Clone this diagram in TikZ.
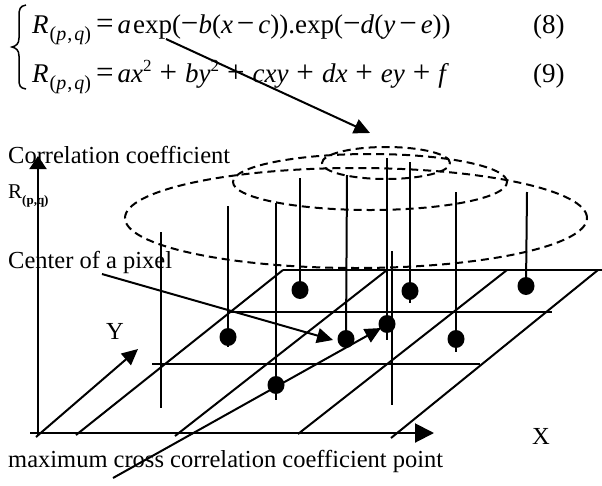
\documentclass[tikz,border=0pt]{standalone}
\usepackage{graphicx}
\usepackage{fontspec}
\setmainfont{Liberation Serif}
\usetikzlibrary{arrows.meta,shapes.geometric}
\newcommand\myLbl{\fontsize{24.5}{28}\selectfont}
\newcommand\myEq{\fontsize{27}{30}\selectfont}
\newcommand\eqsub{\kern1pt\raisebox{-7pt}{\fontsize{20}{20}\selectfont(\textit{p}\kern1pt,\kern2pt\textit{q})}}
\newcommand\eqsq{\raisebox{11pt}{\fontsize{17}{17}\selectfont 2}}
\newcommand\eqrel[1]{\hspace{5pt}\scalebox{1.15}{#1}\hspace{4pt}}
\newcommand\eqbin[1]{\hspace{#1}\scalebox{1.15}{+}\hspace{#1}}
\newcommand\eqmin{\hspace{4pt}\scalebox{1.15}{−}\hspace{4pt}}
\newcommand\equn{\scalebox{1.15}{−}}
\tikzset{
  ln/.style={line width=2pt},
  dsh/.style={line width=2pt, dash pattern=on 8pt off 5pt},
  arr/.style={line width=2pt, -{Triangle[length=16pt,width=15pt]}},
  lbl/.style={font=\myLbl, inner sep=0pt, anchor=base west},
  pix/.style={ellipse, fill=black, inner sep=0pt, minimum width=17pt, minimum height=18pt},
}
\begin{document}
\begin{tikzpicture}[x=1pt,y=-1pt]
\useasboundingbox (0,0) rectangle (602,485);

% equations
\draw[line width=1.5pt] (26,5) .. controls (20,6) and (19,9) .. (19,16) -- (19,38)
  .. controls (19,44) and (16,46) .. (12,47) .. controls (16,48) and (19,50) .. (19,56)
  -- (19,79) .. controls (19,86) and (20,88) .. (26,89);
\node[lbl] (eq8) at (32,33) {\myEq\textit{R}\eqsub\eqrel{=}\textit{a}\hspace{2pt}exp(\equn\textit{b}(\textit{x}\eqmin\textit{c})).exp(\equn\textit{d}(\textit{y}\eqmin\textit{e}))};
\node[lbl] (eq9) at (32,82) {\myEq\textit{R}\eqsub\eqrel{=}\textit{ax}\eqsq\eqbin{8pt}\textit{by}\eqsq\eqbin{8pt}\textit{cxy}\eqbin{8pt}\textit{dx}\eqbin{8pt}\textit{ey}\eqbin{8pt}\textit{f}};
\node[lbl] (n8) at (533,33) {\myEq(8)};
\node[lbl] (n9) at (533,82) {\myEq(9)};

% labels
\node[lbl] (cc) at (8,163) {Correlation coefficient};
\node[lbl] (rpq) at (8,198) {\fontsize{21}{24}\selectfont R\raisebox{-6pt}{\fontsize{13}{13}\selectfont\bfseries(p,q)}};
\node[lbl] (cp) at (8,268) {Center of a pixel};
\node[lbl] (mx) at (8,467) {maximum cross correlation coefficient point};
\node[font=\myLbl, inner sep=0pt, anchor=base] (Ylab) at (115,339) {Y};
\node[font=\myLbl, inner sep=0pt, anchor=base] (Xlab) at (541,444) {X};

% correlation surface
\draw[dsh] (356,218) ellipse [x radius=231pt, y radius=50pt];
\draw[dsh] (370,182) ellipse [x radius=137pt, y radius=28pt];
\draw[dsh] (386,163) ellipse [x radius=64pt, y radius=16pt];

% grid
\draw[ln] (283,270) -- (602,270);
\draw[ln] (228,312) -- (552,312);
\draw[ln] (152,364) -- (480,364);
\draw[ln] (76,435) -- (283,270);
\draw[ln] (175,436) -- (387,270);
\draw[ln] (298,434) -- (507,270);
\draw[ln] (391,438) -- (598,270);

% vertical lines at grid nodes
\draw[ln] (161,232) -- (161,408);
\draw[ln] (392,251) -- (392,405);

% pixel centres with stems
\node[pix] (p1) at (228,337) {};
\node[pix] (p2) at (276,385) {};
\node[pix] (p3) at (300,290) {};
\node[pix] (p4) at (346,339) {};
\node[pix] (p5) at (387,324) {};
\node[pix] (p6) at (410,291) {};
\node[pix] (p7) at (456,339) {};
\node[pix] (p8) at (526,286) {};
\draw[ln] (228,206) -- (228,347);
\draw[ln] (276,203) -- (276,400);
\draw[ln] (300,178) -- (p3.center);
\draw[ln] (347,175) -- (p4.center);
\draw[ln] (387,158) -- (387,340);
\draw[ln] (410,162) -- (410,303);
\draw[ln] (456,192) -- (456,352);
\draw[ln] (527,192) -- (p8.center);

% axes
\coordinate (orig) at (38,436);
\coordinate (ztip) at (38,156);
\coordinate (xs) at (30,433);
\coordinate (xtip) at (434,433);
\coordinate (ys) at (36,437);
\coordinate (ytip) at (138,349);
\draw[ln, -{Triangle[length=13pt,width=17pt]}] (orig) -- (ztip);
\draw[ln, -{Triangle[length=19pt,width=19pt]}] (xs) -- (xtip);
\draw[arr] (ys) -- (ytip);

% pointer arrows
\coordinate (eqs) at (166,39);
\coordinate (eqt) at (370,133);
\draw[arr] (eqs) -- (eqt);
\coordinate (cps) at (102,274);
\coordinate (cpt) at (333,340);
\draw[arr] (cps) -- (cpt);
\coordinate (mxs) at (113,478);
\coordinate (mxt) at (381,328);
\draw[arr] (mxs) -- (mxt);
\end{tikzpicture}
\end{document}
